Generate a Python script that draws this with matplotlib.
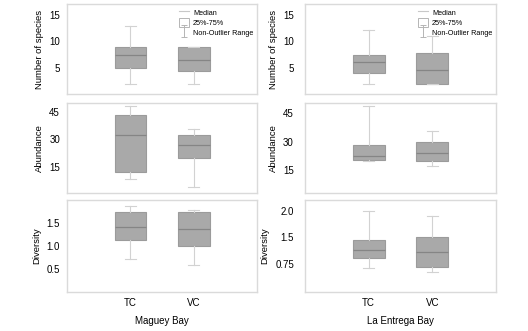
import matplotlib
matplotlib.use("Agg")
import matplotlib.pyplot as plt
from matplotlib.lines import Line2D
from matplotlib.patches import Patch
from matplotlib.path import Path

plt.rcParams["font.family"] = ["Liberation Sans", "DejaVu Sans"]

# Box statistics: (whislo, q1, med, q3, whishi)
groups = ["TC", "VC"]
bays = ["Maguey Bay", "La Entrega Bay"]
metrics = ["Number of species", "Abundance", "Diversity"]

maguey_species = [(1.9, 4.9, 7.4, 8.85, 12.9), (1.9, 4.4, 6.45, 8.85, 8.85)]
maguey_abund = [(8.3, 12.3, 32.4, 43.4, 48.3), (4.0, 19.9, 26.7, 32.4, 35.8)]
maguey_div = [(0.71, 1.12, 1.41, 1.75, 1.86), (0.58, 0.99, 1.38, 1.73, 1.78)]

entrega_species = [(1.9, 4.06, 6.1, 7.4, 12.0), (1.9, 1.9, 4.6, 7.7, 11.0)]
entrega_abund = [(19.7, 20.2, 22.6, 28.3, 48.5), (17.1, 20.0, 24.0, 30.0, 35.3)]
entrega_div = [(0.93, 1.12, 1.26, 1.46, 2.0), (0.85, 0.95, 1.23, 1.5, 1.91)]

data = [
    [maguey_species, maguey_abund, maguey_div],
    [entrega_species, entrega_abund, entrega_div],
]

ylims = [
    [(0, 17), (0.5, 50), (0, 2.0)],
    [(0, 17), (3.3, 50), (0.48, 2.2)],
]
yticks = [
    [[5, 10, 15], [15, 30, 45], [0.5, 1.0, 1.5]],
    [[5, 10, 15], [15, 30, 45], [1.0, 1.5, 2.0]],
]
ytick_labels = [
    [["5", "10", "15"], ["15", "30", "45"], ["0.5", "1.0", "1.5"]],
    [["5", "10", "15"], ["15", "30", "45"], ["0.75", "1.5", "2.0"]],
]

W, H = 528, 331
fig = plt.figure(figsize=(W / 100, H / 100), dpi=100)

col_x = [(67, 257), (305, 496)]
row_y = [(4, 94), (103, 193), (200, 292)]

box_face = "#a9a9a9"
box_edge = "#9b9b9b"
med_col = "#858585"
whisk_col = "#d2d2d2"
spine_col = "#dadada"

# I-shaped marker for the whisker legend entry
whisker_marker = Path(
    [(-0.6, -1), (0.6, -1), (0, -1), (0, 1), (-0.6, 1), (0.6, 1)],
    [Path.MOVETO, Path.LINETO, Path.MOVETO, Path.LINETO, Path.MOVETO, Path.LINETO],
)

for c in range(2):
    for r in range(3):
        x0, x1 = col_x[c]
        y0, y1 = row_y[r]
        ax = fig.add_axes([x0 / W, (H - y1) / H, (x1 - x0) / W, (y1 - y0) / H])
        stats = []
        for g, (lo, q1, med, q3, hi) in zip(groups, data[c][r]):
            stats.append(dict(label=g, whislo=lo, q1=q1, med=med, q3=q3,
                              whishi=hi, fliers=[]))
        ax.bxp(stats, positions=[1, 2], widths=0.5, patch_artist=True,
               showfliers=False,
               boxprops=dict(facecolor=box_face, edgecolor=box_edge, linewidth=0.8),
               medianprops=dict(color=med_col, linewidth=0.9),
               whiskerprops=dict(color=whisk_col, linewidth=0.8),
               capprops=dict(color=whisk_col, linewidth=0.8),
               capwidths=0.18)
        ax.set_xlim(0, 3)
        ax.set_ylim(*ylims[c][r])
        ax.set_yticks(yticks[c][r])
        ax.set_yticklabels(ytick_labels[c][r])
        ax.set_ylabel(metrics[r], fontsize=6.8, labelpad=4 if c == 0 else 4)
        ax.tick_params(axis="y", length=0, labelsize=7, pad=5 if c == 0 else 8)
        for s in ax.spines.values():
            s.set_color(spine_col)
            s.set_linewidth(1.0)
        if r == 2:
            ax.tick_params(axis="x", length=0, labelsize=7, pad=4)
            ax.set_xlabel(bays[c], fontsize=7, labelpad=6)
        else:
            ax.set_xticks([])
        if r == 0:
            handles = [
                Line2D([0], [0], color="#c8c8c8", linewidth=0.8),
                Patch(facecolor="white", edgecolor="#b5b5b5", linewidth=0.7),
                Line2D([0], [0], color="#b5b5b5", linestyle="none",
                       marker=whisker_marker, markersize=8, markeredgewidth=0.7),
            ]
            ax.legend(handles, ["Median", "25%-75%", "Non-Outlier Range"],
                      loc="upper right", bbox_to_anchor=(1.0, 1.0),
                      frameon=False, fontsize=5.2, handlelength=1.4,
                      handleheight=1.6, handletextpad=0.5, labelspacing=0.1,
                      borderpad=0.3, borderaxespad=0.2)

fig.savefig("out.png", dpi=100)
